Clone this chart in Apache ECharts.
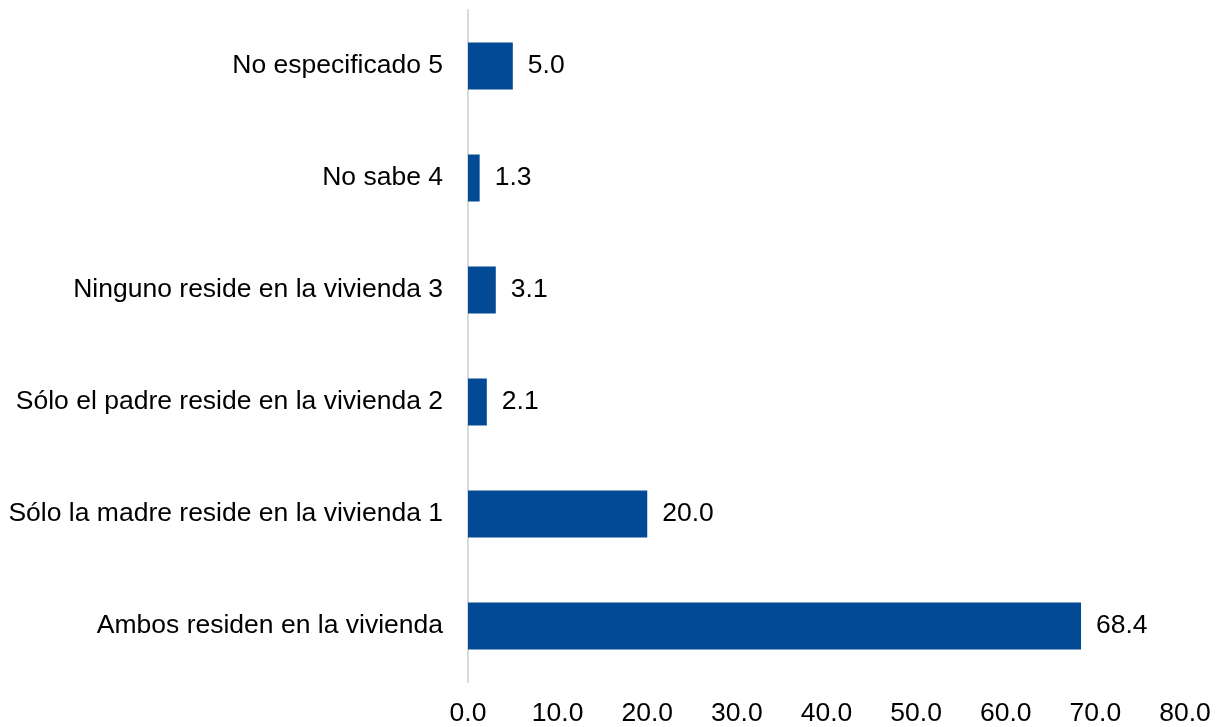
<!DOCTYPE html>
<html>
<head>
<meta charset="utf-8">
<script src="https://cdn.jsdelivr.net/npm/echarts@6/dist/echarts.min.js"></script>
<style>
  html, body { margin: 0; padding: 0; background: #fff; }
  #chart { width: 1217px; height: 727px; }
</style>
</head>
<body>
<div id="chart"></div>
<script>
// categorías de abajo hacia arriba
const categories = [
  'Ambos residen en la vivienda',
  'Sólo la madre reside en la vivienda 1',
  'Sólo el padre reside en la vivienda 2',
  'Ninguno reside en la vivienda 3',
  'No sabe 4',
  'No especificado 5'
]
const values = [68.4, 20.0, 2.1, 3.1, 1.3, 5.0]
const axisMin = 0
const axisMax = 80
const axisStep = 10

const chart = echarts.init(document.getElementById('chart'))
const font = 'Liberation Sans, Arial, sans-serif'

const option = {
  animation: false,
  grid: {
    left: 468,
    right: 32,
    top: 10,
    bottom: 44,
    containLabel: false
  },
  xAxis: {
    type: 'value',
    min: axisMin,
    max: axisMax,
    interval: axisStep,
    axisLine: { show: false },
    axisTick: { show: false },
    splitLine: { show: false },
    axisLabel: {
      margin: 18,
      fontSize: 26.5,
      fontFamily: font,
      color: '#000',
      formatter: v => v.toFixed(1)
    }
  },
  yAxis: {
    type: 'category',
    data: categories,
    axisLine: { show: true, lineStyle: { color: '#d9d9d9', width: 2 } },
    axisTick: { show: false },
    axisLabel: {
      margin: 25,
      fontSize: 26.5,
      fontFamily: font,
      color: '#000'
    }
  },
  series: [
    {
      type: 'bar',
      data: values,
      barWidth: 47,
      itemStyle: { color: '#034a96' },
      label: {
        show: true,
        position: 'right',
        distance: 15,
        fontSize: 26.5,
        fontFamily: font,
        color: '#000',
        formatter: p => p.value.toFixed(1)
      }
    }
  ]
}
chart.setOption(option)
</script>
</body>
</html>
